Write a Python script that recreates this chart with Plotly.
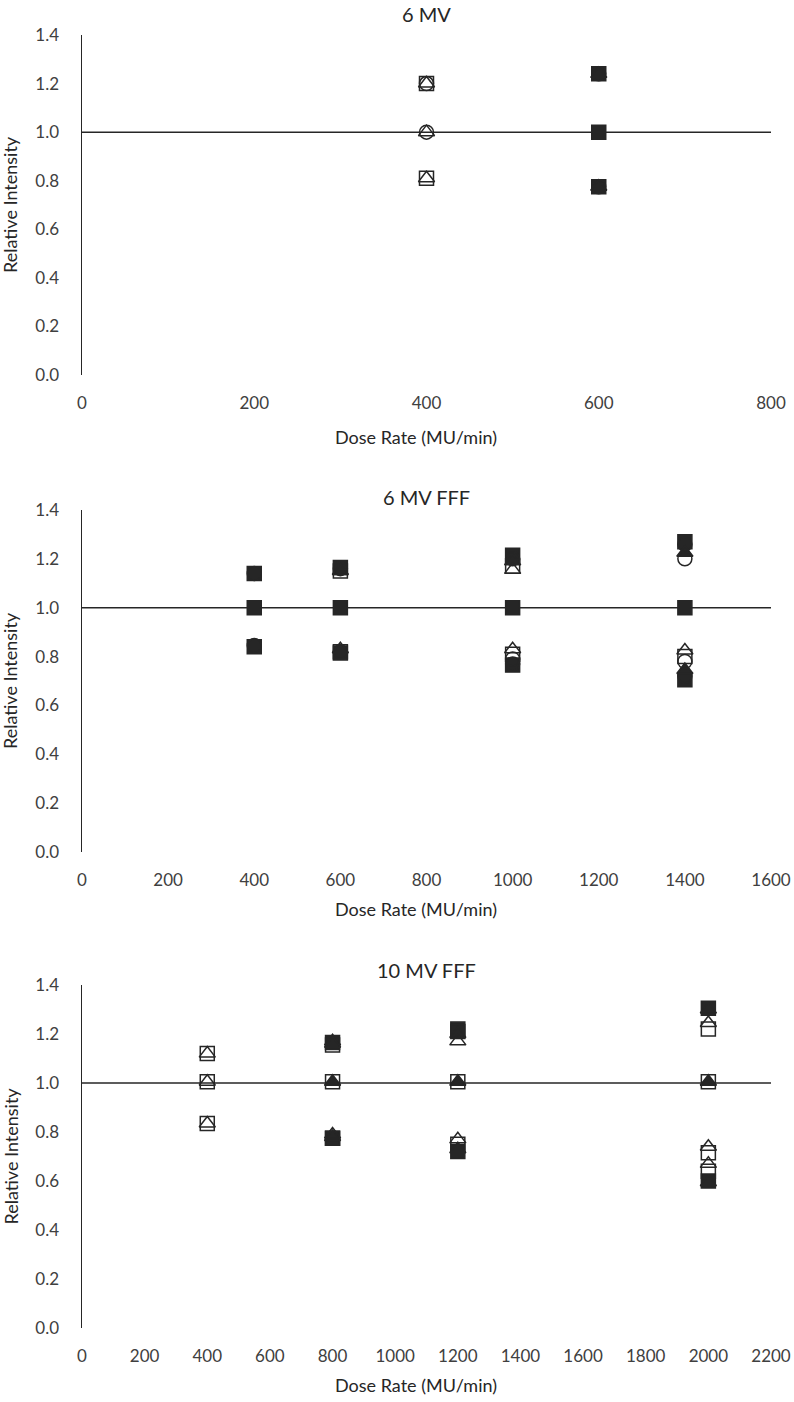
import plotly.graph_objects as go

# ---------------- data ----------------
# Panel 1: 6 MV
p1_title = "6 MV"
p1_dose = [400, 600]
p1_open_square = {"hi": [1.20, None], "ref": [None, None], "lo": [0.81, None]}
p1_open_circle = {"hi": [1.20, None], "ref": [1.00, None], "lo": [None, None]}
p1_open_triangle = {"hi": [1.20, None], "ref": [1.00, None], "lo": [0.81, None]}
p1_filled_square = {"hi": [None, 1.24], "ref": [None, 1.00], "lo": [None, 0.775]}
p1_filled_circle = {"hi": [None, 1.24], "ref": [None, None], "lo": [None, 0.775]}
p1_filled_triangle = {"hi": [None, 1.24], "ref": [None, None], "lo": [None, 0.775]}
p1_xticks = [0, 200, 400, 600, 800]

# Panel 2: 6 MV FFF
p2_title = "6 MV FFF"
p2_dose = [400, 600, 1000, 1400]
p2_open_square = {"hi": [None, 1.15, 1.17, None], "ref": [None, None, None, None], "lo": [None, 0.82, 0.81, 0.80]}
p2_open_circle = {"hi": [None, None, None, 1.20], "ref": [None, None, None, None], "lo": [None, None, 0.79, 0.78]}
p2_open_triangle = {"hi": [None, 1.15, 1.155, None], "ref": [None, None, None, None], "lo": [None, 0.83, 0.83, 0.825]}
p2_filled_square = {"hi": [1.14, 1.165, 1.215, 1.27], "ref": [1.00, 1.00, 1.00, 1.00], "lo": [0.84, 0.815, 0.765, 0.705]}
p2_filled_circle = {"hi": [1.14, 1.16, 1.20, 1.26], "ref": [None, None, None, None], "lo": [0.845, 0.82, 0.77, 0.72]}
p2_filled_triangle = {"hi": [None, None, 1.19, 1.225], "ref": [None, None, None, None], "lo": [None, None, None, 0.745]}
p2_xticks = [0, 200, 400, 600, 800, 1000, 1200, 1400, 1600]

# Panel 3: 10 MV FFF
p3_title = "10 MV FFF"
p3_dose = [400, 800, 1200, 2000]
p3_open_square = {"hi": [1.12, 1.155, 1.21, 1.22], "ref": [1.005, 1.005, 1.005, 1.005], "lo": [0.835, 0.775, 0.75, 0.715]}
p3_open_circle = {"hi": [None, None, None, None], "ref": [None, None, None, None], "lo": [None, None, None, None]}
p3_open_triangle = {"hi": [1.12, 1.16, 1.17, 1.245], "ref": [1.005, None, None, None], "lo": [0.835, 0.79, 0.77, 0.74]}
p3_filled_square = {"hi": [None, 1.165, 1.22, 1.305], "ref": [None, None, None, None], "lo": [None, 0.775, 0.72, 0.60]}
p3_filled_circle = {"hi": [None, None, None, None], "ref": [None, None, None, None], "lo": [None, None, None, None]}
p3_filled_triangle = {"hi": [None, 1.17, 1.20, 1.30], "ref": [None, 1.005, 1.005, 1.005], "lo": [None, 0.78, 0.73, 0.595]}
p3_open_triangle2_lo = [None, None, None, 0.67]
p3_open_square2_lo = [None, None, None, 0.64]
p3_xticks = [0, 200, 400, 600, 800, 1000, 1200, 1400, 1600, 1800, 2000, 2200]

y_ticks = [0.0, 0.2, 0.4, 0.6, 0.8, 1.0, 1.2, 1.4]
x_title = "Dose Rate (MU/min)"
y_title = "Relative Intensity"

# ---------------- figure ----------------
INK = "#262626"
TXT = "#404040"
FONT = "Lato, 'Open Sans', sans-serif"
MS = 14

W, H = 794, 1402


def px(x):
    return x / W


def py(y):
    return 1 - y / H


fig = go.Figure()

panels = [
    (p1_title, p1_dose, [p1_open_square, p1_open_circle, p1_open_triangle,
                         p1_filled_square, p1_filled_circle, p1_filled_triangle], p1_xticks, 800, [], []),
    (p2_title, p2_dose, [p2_open_square, p2_open_circle, p2_open_triangle,
                         p2_filled_square, p2_filled_circle, p2_filled_triangle], p2_xticks, 1600, [], []),
    (p3_title, p3_dose, [p3_open_square, p3_open_circle, p3_open_triangle,
                         p3_filled_square, p3_filled_circle, p3_filled_triangle], p3_xticks, 2200,
     p3_open_square2_lo, p3_open_triangle2_lo),
]

symbols = ["square", "circle", "triangle-up", "square", "circle", "triangle-up"]
filled = [False, False, False, True, True, True]
order = [3, 4, 5, 0, 1, 2]  # draw filled first, open on top

x_dom = [px(82), px(771)]
y_doms = [
    [py(375), py(35)],
    [py(852), py(510)],
    [py(1328), py(985)],
]
title_y = [5, 497, 970]
xtitle_y = [437, 909, 1385]

for i, (title, dose, series, xt, xmax, sq2, tri2) in enumerate(panels):
    n = i + 1
    xa = "x" if n == 1 else f"x{n}"
    ya = "y" if n == 1 else f"y{n}"
    for k in order:
        s = series[k]
        xs, ys = [], []
        for key in ("hi", "ref", "lo"):
            for d, v in zip(dose, s[key]):
                if v is not None:
                    xs.append(d)
                    ys.append(v)
        if not xs:
            continue
        sym = symbols[k] + ("" if filled[k] else "-open")
        fig.add_trace(go.Scatter(
            x=xs, y=ys, mode="markers", xaxis=xa, yaxis=ya, showlegend=False,
            marker=dict(symbol=sym, size=MS, color=INK,
                        line=dict(color=INK, width=1.5)),
        ))
    for extra, symb in ((sq2, "square-open"), (tri2, "triangle-up-open")):
        xs = [d for d, v in zip(dose, extra) if v is not None]
        ys = [v for v in extra if v is not None]
        if xs:
            fig.add_trace(go.Scatter(
                x=xs, y=ys, mode="markers", xaxis=xa, yaxis=ya, showlegend=False,
                marker=dict(symbol=symb, size=MS, color=INK, line=dict(color=INK, width=1.5)),
            ))

    axis_font = dict(family=FONT, size=17, color=TXT)
    fig.update_layout(**{
        ("xaxis" if n == 1 else f"xaxis{n}"): dict(
            domain=x_dom, anchor=ya, range=[0, xmax], tickvals=xt,
            ticktext=[str(v) for v in xt], showgrid=False, zeroline=False,
            showline=False, ticks="", tickfont=axis_font, ticklabelstandoff=16,
            automargin=False,
        ),
        ("yaxis" if n == 1 else f"yaxis{n}"): dict(
            domain=y_doms[i], anchor=xa, range=[0, 1.4], tickvals=y_ticks,
            ticktext=[f"{v:.1f}" for v in y_ticks], showgrid=False, zeroline=False,
            showline=True, linecolor=INK, linewidth=1.5, ticks="",
            tickfont=axis_font, ticklabelstandoff=18, automargin=False,
        ),
    })
    # horizontal axis crossing at 1.0
    fig.add_shape(type="line", xref=f"{xa} domain", yref=ya, x0=0, x1=1, y0=1.0, y1=1.0,
                  line=dict(color=INK, width=1.5), layer="below")
    if i == 0:
        fig.add_annotation(text=title, xref="paper", yref="paper", x=0.5 * (x_dom[0] + x_dom[1]),
                           y=1.0, showarrow=False, yanchor="top",
                           font=dict(family=FONT, size=20, color=INK))
    else:
        fig.add_annotation(text=title, xref="paper", yref="paper", x=0.5 * (x_dom[0] + x_dom[1]),
                           y=py(title_y[i]), showarrow=False, yanchor="middle",
                           font=dict(family=FONT, size=20, color=INK))
    fig.add_annotation(text=x_title, xref="paper", yref="paper", x=px(416), xanchor="center",
                       y=py(xtitle_y[i]), showarrow=False, yanchor="middle",
                       font=dict(family=FONT, size=18, color=INK))
    fig.add_annotation(text=y_title, xref="paper", yref="paper", x=px(10), xanchor="center",
                       y=0.5 * (y_doms[i][0] + y_doms[i][1]), yanchor="middle",
                       showarrow=False, textangle=-90,
                       font=dict(family=FONT, size=18, color=INK))

fig.update_layout(width=W, height=H, margin=dict(l=0, r=0, t=0, b=0),
                  plot_bgcolor="white", paper_bgcolor="white")

fig.write_html(
    "out.html",
    config={"displayModeBar": False, "staticPlot": True},
    post_script="document.body.style.margin='0';document.body.style.overflow='hidden';",
)
